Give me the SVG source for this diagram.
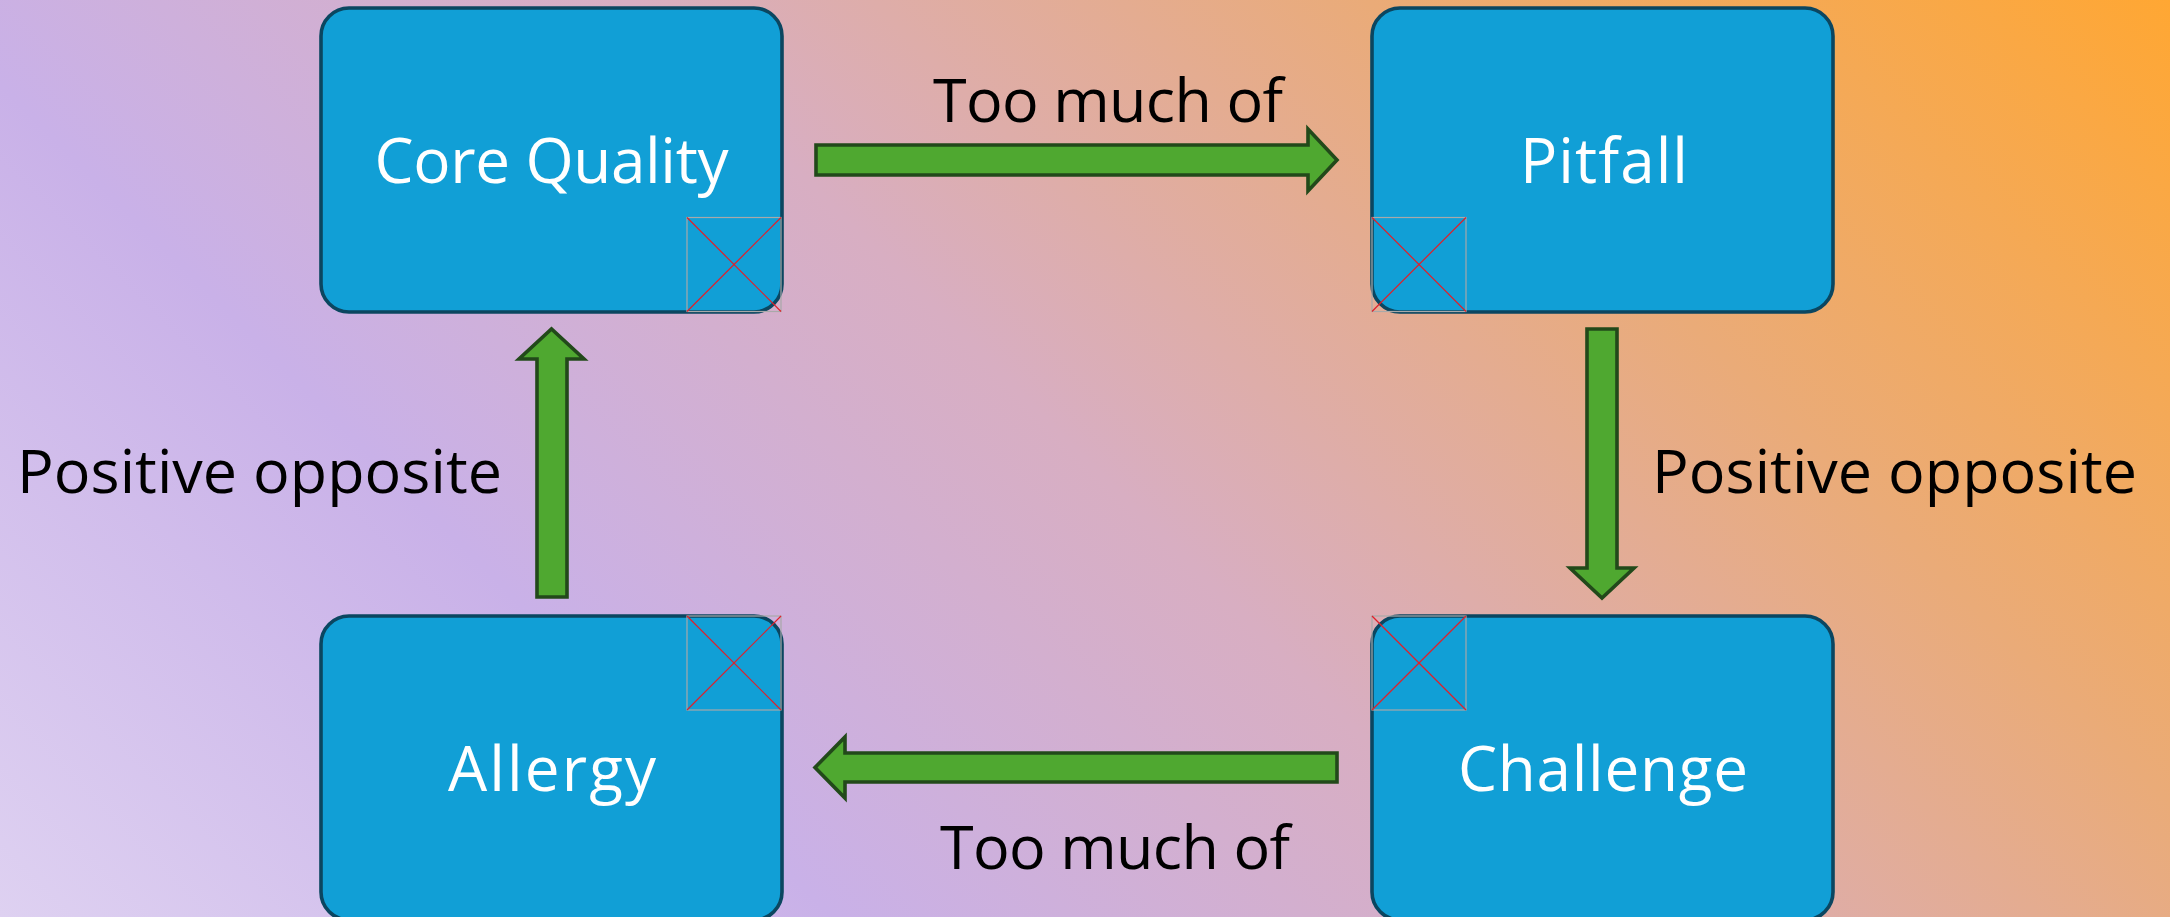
<svg xmlns="http://www.w3.org/2000/svg" width="2170" height="917" viewBox="0 0 2170 917">
  <defs>
    <linearGradient id="bg" gradientUnits="userSpaceOnUse" x1="313" y1="1230" x2="1857" y2="-314">
      <stop offset="0" stop-color="#ded1f1"/>
      <stop offset="0.27" stop-color="#c9b1e8"/>
      <stop offset="0.5" stop-color="#d8aec2"/>
      <stop offset="0.74" stop-color="#eaab78"/>
      <stop offset="1" stop-color="#ffa733"/>
    </linearGradient>
    <style>
      .box { fill: #119fd6; stroke: #0b4660; stroke-width: 3.6; }
      .ph { fill: none; stroke: #a9a9a9; stroke-width: 1.2; }
      .phx { stroke: #e0202a; stroke-width: 1.2; }
      .nlabel { font-family: "Open Sans", "Liberation Sans", sans-serif; font-size: 62px; fill: #ffffff; text-anchor: middle; }
      .arrow { fill: #4fa830; stroke: #22491a; stroke-width: 3.6; stroke-linejoin: miter; }
      .elabel { font-family: "Open Sans", "Liberation Sans", sans-serif; font-size: 61px; fill: #000000; text-anchor: middle; }
    </style>
  </defs>
  <rect x="0" y="0" width="2170" height="917" fill="url(#bg)"/>

  <g id="node-core-quality">
    <rect class="box" x="321" y="8" width="461" height="304" rx="28" ry="28"/>
    <text class="nlabel" x="551.5" y="183" textLength="354">Core Quality</text>
    <rect class="ph" x="687" y="217.5" width="94" height="94"/>
    <line class="phx" x1="687" y1="217.5" x2="781" y2="311.5"/>
    <line class="phx" x1="781" y1="217.5" x2="687" y2="311.5"/>
  </g>

  <g id="node-pitfall">
    <rect class="box" x="1372" y="8" width="461" height="304" rx="28" ry="28"/>
    <text class="nlabel" x="1604" y="183" textLength="168">Pitfall</text>
    <rect class="ph" x="1372" y="217.5" width="94" height="94"/>
    <line class="phx" x1="1372" y1="217.5" x2="1466" y2="311.5"/>
    <line class="phx" x1="1466" y1="217.5" x2="1372" y2="311.5"/>
  </g>

  <g id="node-allergy">
    <rect class="box" x="321" y="616" width="461" height="304" rx="28" ry="28"/>
    <text class="nlabel" x="552" y="791" textLength="208">Allergy</text>
    <rect class="ph" x="687" y="616" width="94" height="94"/>
    <line class="phx" x1="687" y1="616" x2="781" y2="710"/>
    <line class="phx" x1="781" y1="616" x2="687" y2="710"/>
  </g>

  <g id="node-challenge">
    <rect class="box" x="1372" y="616" width="461" height="304" rx="28" ry="28"/>
    <text class="nlabel" x="1603" y="791" textLength="290">Challenge</text>
    <rect class="ph" x="1372" y="616" width="94" height="94"/>
    <line class="phx" x1="1372" y1="616" x2="1466" y2="710"/>
    <line class="phx" x1="1466" y1="616" x2="1372" y2="710"/>
  </g>

  <g id="connectors">
    <polygon class="arrow" points="816,145 1308,145 1308,129 1337,160 1308,191 1308,175 816,175"/>
    <text class="elabel" x="1108" y="122" textLength="350">Too much of</text>

    <polygon class="arrow" points="1587,329 1617,329 1617,568 1634,568 1602,598 1570,568 1587,568"/>
    <text class="elabel" x="1894.5" y="493" textLength="485">Positive opposite</text>

    <polygon class="arrow" points="1337,753 845,753 845,737 815,767.5 845,798 845,782 1337,782"/>
    <text class="elabel" x="1115" y="869" textLength="350">Too much of</text>

    <polygon class="arrow" points="537,597 567,597 567,359 584,359 551.5,329 519,359 537,359"/>
    <text class="elabel" x="259.5" y="493" textLength="485">Positive opposite</text>
  </g>
</svg>
